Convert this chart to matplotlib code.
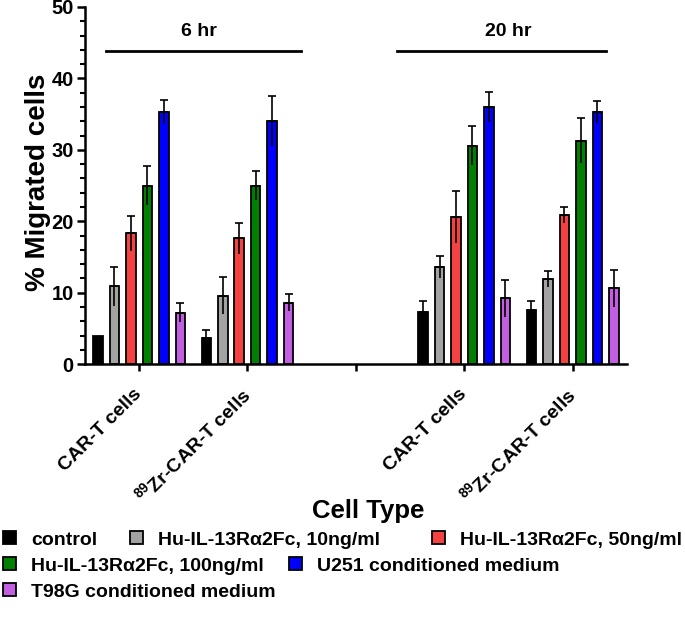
import matplotlib
matplotlib.use('Agg')
import matplotlib.pyplot as plt
from matplotlib.patches import Patch
from matplotlib.ticker import MultipleLocator
import numpy as np

plt.rcParams['font.family'] = ['Liberation Sans', 'DejaVu Sans']
plt.rcParams['font.weight'] = 'bold'
plt.rcParams['mathtext.fontset'] = 'custom'
plt.rcParams['mathtext.rm'] = 'Liberation Sans'

# data
categories = ['CAR-T cells', r'$^{\rm 89}$Zr-CAR-T cells', '', 'CAR-T cells', r'$^{\rm 89}$Zr-CAR-T cells']
series = ['control', 'Hu-IL-13R\u03b12Fc, 10ng/ml', 'Hu-IL-13R\u03b12Fc, 50ng/ml',
          'Hu-IL-13R\u03b12Fc, 100ng/ml', 'U251 conditioned medium', 'T98G conditioned medium']
colors = ['#000000', '#a3a3a3', '#f44242', '#008000', '#0000ff', '#c25ee0']

# rows = cell groups (6 hr CAR-T, 6 hr Zr, 20 hr CAR-T, 20 hr Zr), cols = series
means = [
    [4.0, 10.9, 18.3, 25.0, 35.3, 7.2],
    [3.6, 9.6, 17.6, 25.0, 34.0, 8.6],
    [7.3, 13.6, 20.6, 30.6, 36.0, 9.2],
    [7.6, 11.9, 20.9, 31.3, 35.3, 10.6],
]
errs = [
    [0.0, 2.7, 2.5, 2.7, 1.7, 1.3],
    [1.2, 2.6, 2.2, 2.0, 3.5, 1.2],
    [1.6, 1.6, 3.6, 2.7, 2.1, 2.6],
    [1.2, 1.1, 1.1, 3.2, 1.6, 2.6],
]
group_pos = [0, 1, 3, 4]

W, H = 685, 629
fig = plt.figure(figsize=(6.85, 6.29), dpi=100)
ax = fig.add_axes([0.124, 0.421, 0.791, 0.568])

step = 0.152
width = 0.088
for g, gx in enumerate(group_pos):
    for s in range(6):
        x = gx + (s - 2.5) * step
        m = means[g][s]
        e = errs[g][s]
        ax.bar(x, m, width=width, color=colors[s], edgecolor='black', linewidth=1.3, zorder=2)
        if e > 0:
            ax.errorbar(x, m, yerr=[[e], [0]], fmt='none', ecolor='black', elinewidth=1.2,
                        capsize=0, zorder=3)
            ax.errorbar(x, m, yerr=[[0], [e]], fmt='none', ecolor='black', elinewidth=1.2,
                        capsize=3, capthick=1.2, zorder=3)

# time brackets
ax.plot([-0.31, 1.49], [43.8, 43.8], color='black', lw=2.0, clip_on=False)
ax.text(0.55, 46.6, '6 hr', ha='center', va='center', fontsize=14, fontweight='bold')
ax.plot([2.38, 4.31], [43.8, 43.8], color='black', lw=2.0, clip_on=False)
ax.text(3.41, 46.6, '20 hr', ha='center', va='center', fontsize=14, fontweight='bold')

ax.set_xlim(-0.5, 4.5)
ax.set_ylim(0, 50)
ax.set_xticks(range(5))
ax.set_xticklabels(categories, rotation=45, ha='right', va='center', rotation_mode='anchor',
                   fontsize=14, fontweight='bold')
ax.yaxis.set_major_locator(MultipleLocator(10))
ax.yaxis.set_minor_locator(MultipleLocator(2))
ax.tick_params(axis='y', which='major', length=6, width=1.8, labelsize=14.5, pad=2)
ax.tick_params(axis='y', which='minor', length=3.5, width=1.5)
ax.tick_params(axis='x', which='major', length=5, width=1.8, pad=15)
for lab in ax.get_yticklabels():
    lab.set_fontweight('bold')
for side in ['top', 'right']:
    ax.spines[side].set_visible(False)
for side in ['left', 'bottom']:
    ax.spines[side].set_linewidth(1.8)

ax.set_ylabel('% Migrated cells', fontsize=20, fontweight='bold')
ax.yaxis.set_label_coords(-0.063, 0.51)
fig.text(368 / W, 1 - 511 / H, 'Cell Type', ha='center', va='center', fontsize=18.5, fontweight='bold')

# legend entries placed like the original (flow layout)
legend_pos = [(3, 540), (130, 540), (432, 540), (3, 566), (289, 566), (3, 592)]
for s, (px, py) in enumerate(legend_pos):
    h = Patch(facecolor=colors[s], edgecolor='black', linewidth=1.3)
    leg = fig.legend([h], [series[s]], loc='center left', bbox_to_anchor=(px / W, 1 - py / H),
                     frameon=False, prop={'size': 14, 'weight': 'bold'}, handlelength=0.65,
                     handleheight=0.65, handletextpad=0.8, borderpad=0, borderaxespad=0)

fig.savefig('out.png', dpi=100)
